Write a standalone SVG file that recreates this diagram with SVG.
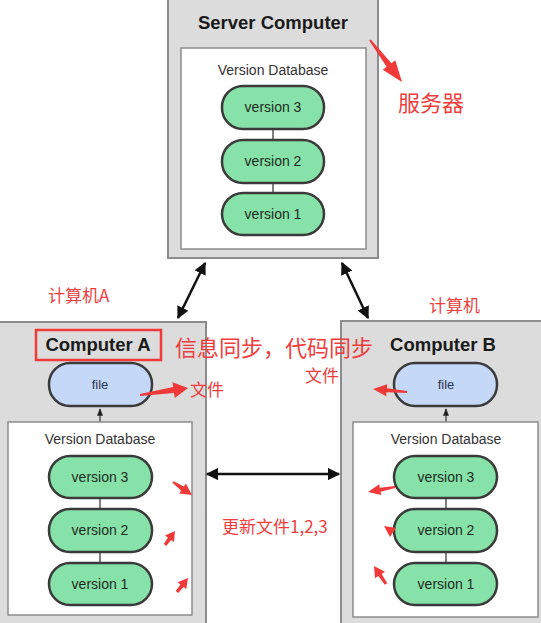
<svg xmlns="http://www.w3.org/2000/svg" width="541" height="623" viewBox="0 0 541 623">
<style>
.box{fill:#dcdcdc;stroke:#8c8c8c;stroke-width:2}
.db{fill:#ffffff;stroke:#8c8c8c;stroke-width:1.5}
.pill{fill:#86e2a8;stroke:#3a3a3a;stroke-width:2.5}
.fpill{fill:#c6d8f8;stroke:#3a3a3a;stroke-width:2.5}
.title{font-family:"Liberation Sans",Arial,sans-serif;font-weight:bold;font-size:18.5px;fill:#1a1a1a;text-anchor:middle}
.dbt{font-family:"Liberation Sans",Arial,sans-serif;font-size:14px;fill:#333;text-anchor:middle}
.vt{font-family:"Liberation Sans",Arial,sans-serif;font-size:14px;fill:#1e2a22;text-anchor:middle}
.ft{font-family:"Liberation Sans",Arial,sans-serif;font-size:13px;fill:#2a3550;text-anchor:middle}
.link{stroke:#555;stroke-width:1.5}
.conn{stroke:#111;stroke-width:2.5;fill:none}
.red{font-family:"Noto Sans CJK SC","Noto Sans",sans-serif;fill:#f03c3c}
.ra{fill:#f03a3a}
</style>
<defs>
<marker id="ah" viewBox="0 0 10 10" refX="9" refY="5" markerWidth="5" markerHeight="5" orient="auto-start-reverse" markerUnits="strokeWidth">
<path d="M0,0 L10,5 L0,10 z" fill="#111"/>
</marker>
<marker id="sh" viewBox="0 0 10 10" refX="9" refY="5" markerWidth="5" markerHeight="5" orient="auto" markerUnits="strokeWidth">
<path d="M0,1 L10,5 L0,9 z" fill="#222"/>
</marker>
</defs>

<g id="server">
<rect class="box" x="168" y="-2" width="210" height="260"/>
<text class="title" x="273" y="29">Server Computer</text>
<rect class="db" x="181" y="48" width="185" height="201"/>
<text class="dbt" x="273" y="75">Version Database</text>
<line class="link" x1="273" y1="129" x2="273" y2="140"/>
<line class="link" x1="273" y1="183" x2="273" y2="193"/>
<rect class="pill" x="222" y="86" width="102" height="43" rx="21"/>
<text class="vt" x="273" y="112">version 3</text>
<rect class="pill" x="222" y="140" width="102" height="43" rx="21"/>
<text class="vt" x="273" y="166">version 2</text>
<rect class="pill" x="222" y="193" width="102" height="42" rx="21"/>
<text class="vt" x="273" y="219">version 1</text>
</g>

<g id="computerA">
<rect class="box" x="-2" y="322" width="208" height="310"/>
<text class="title" x="98" y="351">Computer A</text>
<rect x="36" y="330" width="125" height="30" fill="none" stroke="#f03a3a" stroke-width="2.5"/>
<rect class="fpill" x="49" y="363" width="103" height="43" rx="21"/>
<text class="ft" x="100" y="389">file</text>
<line class="link" x1="100" y1="422" x2="100" y2="409" marker-end="url(#sh)"/>
<rect class="db" x="8" y="422" width="184" height="193"/>
<text class="dbt" x="100" y="444">Version Database</text>
<line class="link" x1="100" y1="498" x2="100" y2="509"/>
<line class="link" x1="100" y1="552" x2="100" y2="563"/>
<rect class="pill" x="49" y="456" width="103" height="42" rx="21"/>
<text class="vt" x="100" y="482">version 3</text>
<rect class="pill" x="49" y="509" width="103" height="43" rx="21"/>
<text class="vt" x="100" y="535">version 2</text>
<rect class="pill" x="49" y="563" width="103" height="42" rx="21"/>
<text class="vt" x="100" y="589">version 1</text>
</g>

<g id="computerB">
<rect class="box" x="341" y="321" width="210" height="310"/>
<text class="title" x="443" y="351">Computer B</text>
<rect class="fpill" x="394" y="363" width="103" height="43" rx="21"/>
<text class="ft" x="446" y="389">file</text>
<line class="link" x1="446" y1="422" x2="446" y2="409" marker-end="url(#sh)"/>
<rect class="db" x="353" y="422" width="185" height="195"/>
<text class="dbt" x="446" y="444">Version Database</text>
<line class="link" x1="446" y1="498" x2="446" y2="509"/>
<line class="link" x1="446" y1="552" x2="446" y2="563"/>
<rect class="pill" x="394" y="456" width="103" height="42" rx="21"/>
<text class="vt" x="446" y="482">version 3</text>
<rect class="pill" x="394" y="509" width="103" height="43" rx="21"/>
<text class="vt" x="446" y="535">version 2</text>
<rect class="pill" x="394" y="563" width="103" height="42" rx="21"/>
<text class="vt" x="446" y="589">version 1</text>
</g>

<g id="connectors">
<line class="conn" x1="205" y1="263" x2="178" y2="318" marker-start="url(#ah)" marker-end="url(#ah)"/>
<line class="conn" x1="342" y1="263" x2="368" y2="318" marker-start="url(#ah)" marker-end="url(#ah)"/>
<line class="conn" x1="207" y1="474" x2="339" y2="474" marker-start="url(#ah)" marker-end="url(#ah)"/>
</g>

<g id="annotations">
<polygon class="ra" points="370.8,39.4 391.4,63.2 395.3,60.2 402,82 382.7,69.8 386.6,66.8 369.2,40.6"/>
<text class="red" x="398" y="111" font-size="22">服务器</text>
<text class="red" x="48" y="302" font-size="17">计算机A</text>
<text class="red" x="429" y="312" font-size="17">计算机</text>
<text class="red" x="175" y="356" font-size="22">信息同步，代码同步</text>
<polygon class="ra" points="139.9,394 173.2,387.1 172.4,382.2 188,388 174.8,398 174,393.1 140.1,396"/>
<text class="red" x="190" y="396" font-size="17">文件</text>
<text class="red" x="305" y="382" font-size="17">文件</text>
<polygon class="ra" points="407.1,391 386.9,388.2 387.2,384.2 373,389 386.2,396.2 386.5,392.2 406.9,393"/>
<text class="red" x="222" y="533" font-size="17">更新文件1,2,3</text>
<polygon class="ra" points="173.6,481.2 183.9,486.4 185.9,483.5 192,495 179.1,493.5 181.1,490.6 172.4,482.8"/>
<polygon class="ra" points="163.8,544.1 167.9,537.5 165,535.5 175,531 174,541.9 171.1,539.9 166.2,545.9"/>
<polygon class="ra" points="175.8,591.1 180.4,584.5 177.6,582.3 188,578 186.3,589.1 183.5,586.9 178.2,592.9"/>
<polygon class="ra" points="394.8,486 379.8,487.7 379.2,484.3 368,492 381.2,495.1 380.6,491.7 395.2,488"/>
<polygon class="ra" points="384,526 396,528 390,537"/>
<polygon class="ra" points="384.8,584.8 378.3,576.1 375,578.3 374,566 385,571.7 381.7,573.9 387.2,583.2"/>
</g>
</svg>
